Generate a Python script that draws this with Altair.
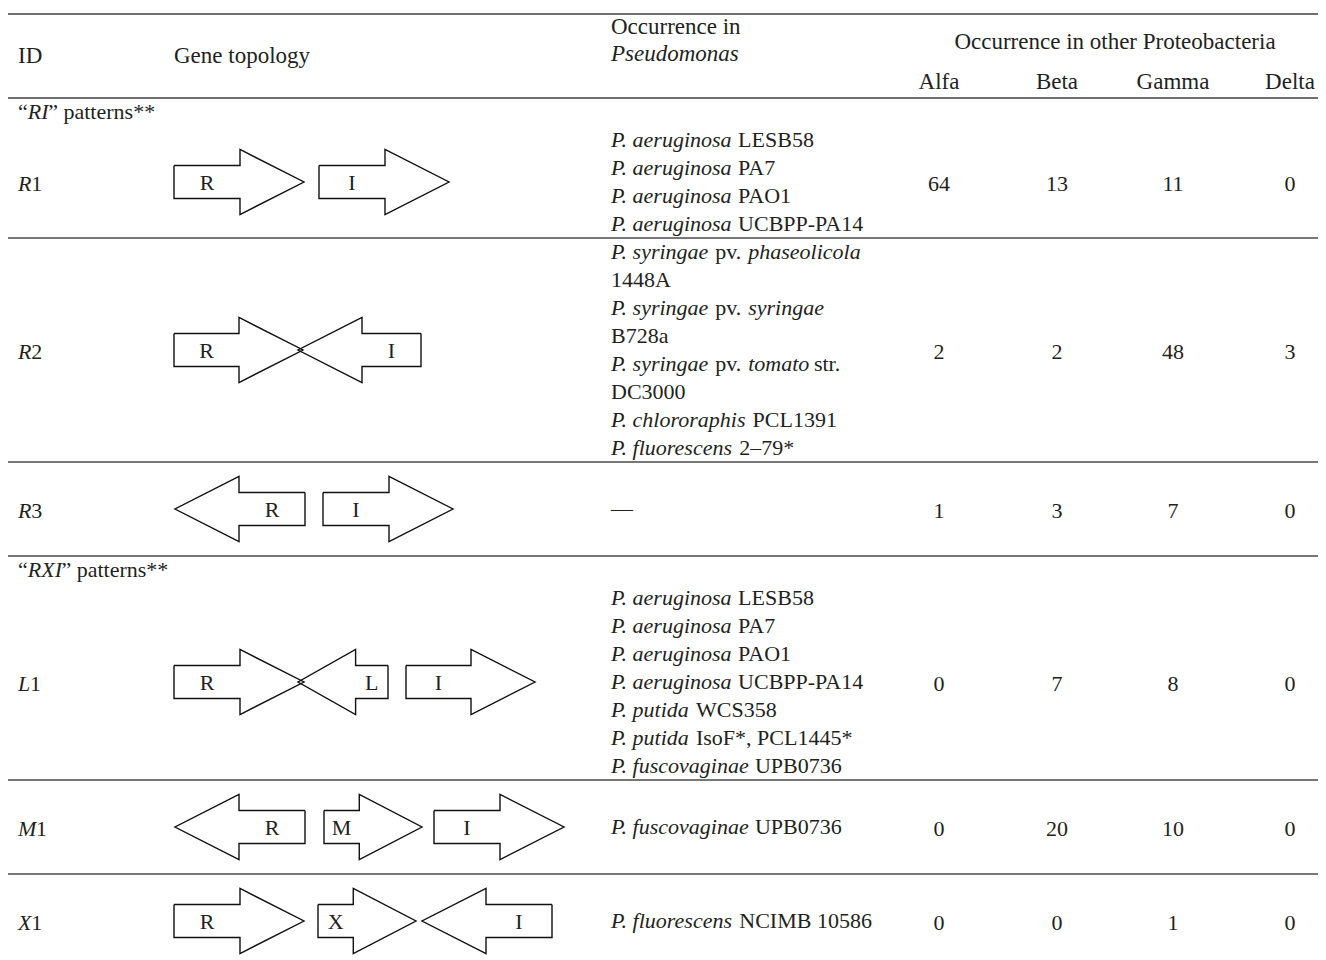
import altair as alt
import pandas as pd

# ---------------- data ----------------
HEADER_ID = "ID"
HEADER_TOPOLOGY = "Gene topology"
HEADER_PSEUDO = ["Occurrence in", "_Pseudomonas_"]
HEADER_OTHER = "Occurrence in other Proteobacteria"
GROUPS = ["Alfa", "Beta", "Gamma", "Delta"]

SECTIONS = ["“_RI_” patterns**", "“_RXI_” patterns**"]
PATTERN_IDS = ["_R_1", "_R_2", "_R_3", "_L_1", "_M_1", "_X_1"]
PATTERN_SECTION = [0, 0, 0, 1, 1, 1]

PSEUDOMONAS = [
    ["_P. aeruginosa_ LESB58", "_P. aeruginosa_ PA7", "_P. aeruginosa_ PAO1",
     "_P. aeruginosa_ UCBPP-PA14"],
    ["_P. syringae_ pv. _phaseolicola_", "1448A", "_P. syringae_ pv. _syringae_", "B728a",
     "_P. syringae_ pv. _tomato_ str.", "DC3000", "_P. chlororaphis_ PCL1391",
     "_P. fluorescens_ 2–79*"],
    ["—"],
    ["_P. aeruginosa_ LESB58", "_P. aeruginosa_ PA7", "_P. aeruginosa_ PAO1",
     "_P. aeruginosa_ UCBPP-PA14", "_P. putida_ WCS358", "_P. putida_ IsoF*, PCL1445*",
     "_P. fuscovaginae_ UPB0736"],
    ["_P. fuscovaginae_ UPB0736"],
    ["_P. fluorescens_ NCIMB 10586"],
]
ALFA = [64, 2, 1, 0, 0, 0]
BETA = [13, 2, 3, 7, 20, 0]
GAMMA = [11, 48, 7, 8, 10, 1]
DELTA = [0, 3, 0, 0, 0, 0]

# gene topology: gene names, start / end along the diagram, strand
GENE_NAMES = [["R", "I"], ["R", "I"], ["R", "I"], ["R", "L", "I"], ["R", "M", "I"], ["R", "X", "I"]]
GENE_START = [[0, 145], [0, 124], [1, 149], [0, 124, 232], [1, 150, 260], [0, 144, 248]]
GENE_END = [[130, 275], [129, 247], [131, 279], [130, 214, 361], [131, 248, 390], [130, 242, 378]]
GENE_STRAND = [["+", "+"], ["+", "-"], ["-", "+"], ["+", "-", "+"], ["-", "+", "+"], ["+", "+", "-"]]

# ---------------- layout ----------------
FONT = "Liberation Serif"
FS = 22
FS_HEAD = 23
INK = "#231f20"
X_ID, X_TOPO, X_PSEUDO = 18, 174, 611
X_GROUPS = [939, 1057, 1173, 1290]
X_OTHER = 1115
LINE, MIN_ROW = 28, 94
Y_TOP_RULE, Y_HEAD_RULE = 14, 98
ITALIC_FIT = 0.985

ROMAN_W = dict(zip("ABCDEFGHIJKLMNOPQRSTUVWXYZ",
                   [722, 667, 667, 722, 611, 556, 722, 722, 333, 389, 722, 611, 889, 722, 722, 556,
                    722, 667, 556, 611, 722, 722, 944, 722, 722, 611]))
ROMAN_W.update(zip("abcdefghijklmnopqrstuvwxyz",
                   [444, 500, 444, 500, 444, 333, 500, 500, 278, 278, 500, 278, 778, 500, 500, 500,
                    500, 333, 389, 278, 500, 500, 722, 500, 500, 444]))
ROMAN_W.update({" ": 250, ".": 250, ",": 250, "-": 333, "–": 500, "—": 1000, "*": 500,
                "“": 444, "”": 444})
ITALIC_W = dict(zip("ABCDEFGHIJKLMNOPQRSTUVWXYZ",
                    [611, 611, 667, 722, 611, 611, 722, 722, 333, 444, 667, 556, 833, 667, 722, 611,
                     722, 611, 500, 556, 722, 611, 833, 611, 556, 556]))
ITALIC_W.update(zip("abcdefghijklmnopqrstuvwxyz",
                    [500, 500, 444, 500, 444, 278, 500, 500, 278, 278, 444, 278, 722, 500, 500, 500,
                     500, 389, 389, 278, 500, 444, 667, 444, 444, 389]))
ITALIC_W.update({" ": 250, ".": 250, ",": 250, "-": 333, "–": 500, "*": 500, "“": 556, "”": 556})


def parse(markup):
    return [(p, i % 2 == 1) for i, p in enumerate(markup.split("_")) if p]


def width(s, italic, fs):
    t = ITALIC_W if italic else ROMAN_W
    w = sum(t.get(c, 500) for c in s) * fs / 1000.0
    return w * ITALIC_FIT if italic else w


left_rows, center_rows = [], []


def place(markup, x0, y, fs=FS):
    x = x0
    for txt, it in parse(markup):
        core = txt.strip(" ")
        lead = len(txt) - len(txt.lstrip(" "))
        if core:
            left_rows.append({"x": x + width(" " * lead, False, fs), "y": y, "t": core,
                              "it": it, "fs": fs})
        x += width(" " * lead, False, fs) + width(txt.lstrip(" "), it, fs)


rules = [{"y": Y_TOP_RULE, "x": 8, "x2": 1318, "w": 2.0, "c": "#707070"},
         {"y": Y_HEAD_RULE, "x": 8, "x2": 1318, "w": 2.0, "c": "#707070"}]

# header
place(HEADER_ID, X_ID, 56, FS_HEAD)
place(HEADER_TOPOLOGY, X_TOPO, 56, FS_HEAD)
place(HEADER_PSEUDO[0], X_PSEUDO, 27, FS_HEAD)
place(HEADER_PSEUDO[1], X_PSEUDO, 54, FS_HEAD)
center_rows.append({"x": X_OTHER, "y": 42, "t": HEADER_OTHER, "fs": FS_HEAD})
for g, gx in zip(GROUPS, X_GROUPS):
    center_rows.append({"x": gx, "y": 82, "t": g, "fs": FS_HEAD})

arrow_pts, arrow_labels = [], []
y = Y_HEAD_RULE
current_section = None
for i, pid in enumerate(PATTERN_IDS):
    if PATTERN_SECTION[i] != current_section:
        current_section = PATTERN_SECTION[i]
        place(SECTIONS[current_section], X_ID, y + LINE / 2)
        y += LINE
    lines = PSEUDOMONAS[i]
    h = max(MIN_ROW, LINE * len(lines))
    cy = y + h / 2
    first = y + (h - LINE * len(lines)) / 2 + LINE / 2
    for k, ln in enumerate(lines):
        place(ln, X_PSEUDO, first + k * LINE)
    place(pid, X_ID, cy + 2)
    for vals, gx in zip([ALFA, BETA, GAMMA, DELTA], X_GROUPS):
        center_rows.append({"x": gx, "y": cy + 2, "t": str(vals[i]), "fs": FS})
    for j, name in enumerate(GENE_NAMES[i]):
        s, e, st = GENE_START[i][j], GENE_END[i][j], GENE_STRAND[i][j]
        L = e - s
        head = min(64, 0.64 * L)
        body = L - head
        bh, hh = 16.5, 32.5
        if st == "+":
            tail, tip, base, lab = s, e, e - head, s + body / 2
        else:
            tail, tip, base, lab = e, s, s + head, e - body / 2
        pts = [(tail, cy - bh), (base, cy - bh), (base, cy - hh), (tip, cy),
               (base, cy + hh), (base, cy + bh), (tail, cy + bh), (tail, cy - bh)]
        for k, (px, py) in enumerate(pts):
            arrow_pts.append({"gid": f"{i}-{j}", "k": k, "x": X_TOPO + px, "y": py})
        arrow_labels.append({"x": X_TOPO + lab, "y": cy + 1, "t": name, "fs": FS})
    y += h
    if i < len(PATTERN_IDS) - 1:
        rules.append({"y": y, "x": 8, "x2": 1318, "w": 1.6, "c": "#4a4a4a"})

left_df = pd.DataFrame(left_rows)
center_df = pd.DataFrame(center_rows + arrow_labels)
rules_df = pd.DataFrame(rules)
arrows_df = pd.DataFrame(arrow_pts)

H = 950
XS = alt.Scale(domain=[8, 1318], range=[0, 1310])
YS = alt.Scale(domain=[8, 8 + H], range=[0, H])
X = alt.X("x:Q", scale=XS, axis=None)
Y = alt.Y("y:Q", scale=YS, axis=None)
SIZE = alt.Size("fs:Q", scale=None)

rule_layer = alt.Chart(rules_df).mark_rule().encode(
    x=X, x2="x2:Q", y=Y,
    strokeWidth=alt.StrokeWidth("w:Q", scale=None),
    color=alt.Color("c:N", scale=None))

arrow_layer = alt.Chart(arrows_df).mark_line(color="#111111", strokeWidth=1.4,
                                             strokeJoin="miter").encode(
    x=X, y=Y, detail="gid:N", order="k:Q")

txt = dict(font=FONT, color=INK, baseline="middle")
roman_left = alt.Chart(left_df).transform_filter("!datum.it").mark_text(
    align="left", **txt).encode(x=X, y=Y, text="t:N", size=SIZE)
italic_left = alt.Chart(left_df).transform_filter("datum.it").mark_text(
    align="left", fontStyle="italic", **txt).encode(x=X, y=Y, text="t:N", size=SIZE)
center_text = alt.Chart(center_df).mark_text(align="center", **txt).encode(
    x=X, y=Y, text="t:N", size=SIZE)

chart = alt.layer(rule_layer, arrow_layer, roman_left, italic_left, center_text).properties(
    width=1310, height=H, padding=0,
    autosize=alt.AutoSizeParams(type="none"),
    background="white",
).configure_view(stroke=None)

chart.save("out.html", embed_options={"renderer": "svg", "actions": False})
